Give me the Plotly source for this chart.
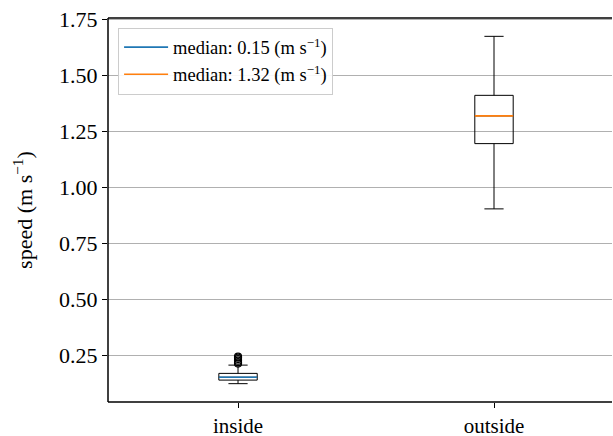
import plotly.graph_objects as go

categories = ["inside", "outside"]
positions = [1, 2]
q1 = [0.138, 1.196]
medians = [0.151, 1.320]
q3 = [0.168, 1.412]
lower_whisker = [0.122, 0.904]
upper_whisker = [0.205, 1.676]
inside_outliers = [0.212, 0.218, 0.225, 0.232, 0.238, 0.243]
median_labels = ["0.15", "1.32"]
median_colors = ["#1f77b4", "#ff7f0e"]
yticks = [0.25, 0.50, 0.75, 1.00, 1.25, 1.50, 1.75]

box_w = 0.15
FONT = "Liberation Serif"

fig = go.Figure()
fig.add_trace(go.Box(
    x=positions, q1=q1, median=medians, q3=q3,
    lowerfence=lower_whisker, upperfence=upper_whisker,
    width=box_w, whiskerwidth=0.5, boxpoints=False,
    line=dict(color="black", width=1), fillcolor="rgba(255,255,255,0)",
    showlegend=False, hoverinfo="skip",
))
fig.add_trace(go.Scatter(
    x=[positions[0]] * len(inside_outliers), y=inside_outliers, mode="markers",
    marker=dict(symbol="circle-open", color="black", size=7, line=dict(width=1.2)),
    showlegend=False, hoverinfo="skip",
))
for p, m, lab, c in zip(positions, medians, median_labels, median_colors):
    fig.add_trace(go.Scatter(
        x=[p - box_w / 2, p + box_w / 2], y=[m, m], mode="lines",
        line=dict(color=c, width=1.6),
        name=f"median: {lab} (m s<sup>−1</sup>)",
    ))

# spines: top, bottom, left (right spine is cut off in the reference)
for x0, x1, y0, y1 in [(0, 1, 1, 1), (0, 1, 0, 0), (0, 0, 0, 1)]:
    fig.add_shape(type="line", xref="paper", yref="paper", x0=x0, x1=x1, y0=y0, y1=y1,
                  line=dict(color="black", width=1.5))

fig.update_layout(
    width=613, height=436,
    margin=dict(l=108, r=1, t=18, b=34, autoexpand=False),
    plot_bgcolor="white", paper_bgcolor="white",
    font=dict(family=FONT, size=22, color="black"),
    legend=dict(
        x=0.02, y=0.975, xanchor="left", yanchor="top",
        bgcolor="rgba(255,255,255,0.9)", bordercolor="#cccccc", borderwidth=1,
        font=dict(family=FONT, size=18.5), tracegroupgap=0, itemwidth=44,
    ),
    xaxis=dict(
        range=[0.492, 2.461], tickmode="array", tickvals=positions, ticktext=categories,
        tickfont=dict(family=FONT, size=21), automargin=False,
        showline=False,
        ticks="outside", ticklen=5, tickwidth=1.2, tickcolor="black",
        showgrid=False, zeroline=False,
    ),
    yaxis=dict(
        range=[0.04, 1.758], tickmode="array", tickvals=yticks,
        ticktext=[f"{v:.2f}" for v in yticks],
        tickfont=dict(family=FONT, size=22), automargin=False,
        showline=False,
        ticks="outside", ticklen=5, tickwidth=1.2, tickcolor="black",
        showgrid=True, gridcolor="#b0b0b0", gridwidth=1, zeroline=False,
        title=dict(text="speed (m s<sup>−1</sup>)", standoff=20,
                   font=dict(family=FONT, size=22)),
    ),
)
fig.write_html("out.html")
